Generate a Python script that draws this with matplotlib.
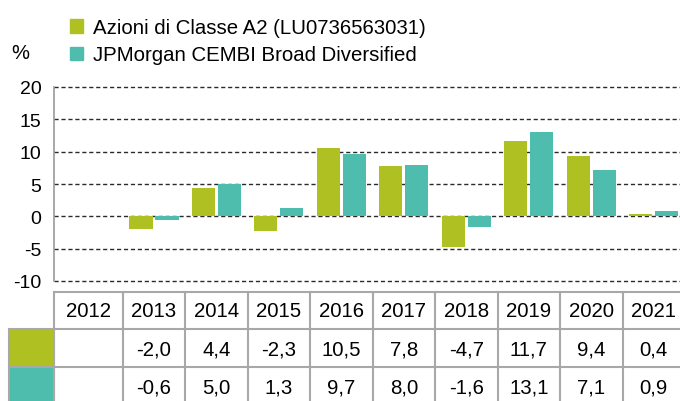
import matplotlib.pyplot as plt
import matplotlib.transforms as mtransforms
from matplotlib.patches import Rectangle, Patch
import numpy as np

plt.rcParams['font.family'] = ['Liberation Sans', 'DejaVu Sans']

# data
years = ['2012', '2013', '2014', '2015', '2016', '2017', '2018', '2019', '2020', '2021']
fund = [np.nan, -2.0, 4.4, -2.3, 10.5, 7.8, -4.7, 11.7, 9.4, 0.4]
bench = [np.nan, -0.6, 5.0, 1.3, 9.7, 8.0, -1.6, 13.1, 7.1, 0.9]
labels = ['Azioni di Classe A2 (LU0736563031)', 'JPMorgan CEMBI Broad Diversified']
yticks = [-10, -5, 0, 5, 10, 15, 20]

green = '#afc122'
teal = '#4fbdad'
line_grey = '#a8a8a8'

W, H = 680, 402
fig = plt.figure(figsize=(W / 100, H / 100), dpi=100)


def fy(py):
    # pixel row -> figure fraction
    return 1 - py / H


ax = fig.add_axes([54 / W, fy(282), (W - 54) / W, (282 - 88) / H])

x = np.arange(len(years))
bw = 0.37
off = 0.208
ax.bar(x - off, fund, bw, color=green, zorder=3)
ax.bar(x + off, bench, bw, color=teal, zorder=3)

ax.set_xlim(-0.6, 9.42)
ax.set_ylim(-10, 20)
ax.set_yticks(yticks)
ax.set_yticklabels([str(t) for t in yticks], fontsize=14)
ax.tick_params(axis='y', length=0, pad=9)
ax.set_xticks([])
for t in yticks:
    ax.axhline(t, color='#2a2a2a', lw=1, ls=(0, (3, 2)), zorder=1, clip_on=False)
for s in ['top', 'right', 'bottom']:
    ax.spines[s].set_visible(False)
ax.spines['left'].set_color('#999999')
ax.spines['left'].set_linewidth(1.2)

# legend and unit
handles = [Patch(color=green), Patch(color=teal)]
fig.legend(handles, labels, loc='upper left', bbox_to_anchor=(62 / W, fy(11)),
           frameon=False, fontsize=14.7, handlelength=0.62, handleheight=0.62,
           handletextpad=0.5, labelspacing=0.4, borderaxespad=0)
fig.text(20 / W, fy(54), '%', fontsize=14.5, ha='center', va='center')

# data table under the chart
tr = mtransforms.blended_transform_factory(ax.transData, fig.transFigure)
row_top, row1, row2 = 293, 330, 368
xl = -0.6
fs = 14.7
lk = dict(color=line_grey, lw=1.5, clip_on=False, transform=tr)
ax.plot([xl, 9.6], [fy(row_top)] * 2, **lk)
for r in (row1, row2):
    ax.plot([xl, 9.6], [fy(r)] * 2, **lk)
for b in [xl] + [i + 0.5 for i in range(9)]:
    ax.plot([b, b], [fy(row_top), 0], **lk)

ax.text(-0.05, fy(312), years[0], transform=tr, ha='center', va='center', fontsize=fs)
for i, yr in enumerate(years[1:], start=1):
    ax.text(i, fy(312), yr, transform=tr, ha='center', va='center', fontsize=fs)
for i in range(len(years)):
    if not np.isnan(fund[i]):
        ax.text(i, fy(350), f'{fund[i]:.1f}'.replace('.', ','), transform=tr,
                ha='center', va='center', fontsize=fs)
        ax.text(i, fy(388), f'{bench[i]:.1f}'.replace('.', ','), transform=tr,
                ha='center', va='center', fontsize=fs)

# colour swatches in the first column
for (top, bot), col in zip([(row1, row2), (row2, H + 5)], [green, teal]):
    fig.patches.append(Rectangle((9 / W, fy(bot)), 45 / W, (bot - top) / H,
                                 transform=fig.transFigure, facecolor=col,
                                 edgecolor=line_grey, lw=1.5))

fig.savefig('out.png', dpi=100)
